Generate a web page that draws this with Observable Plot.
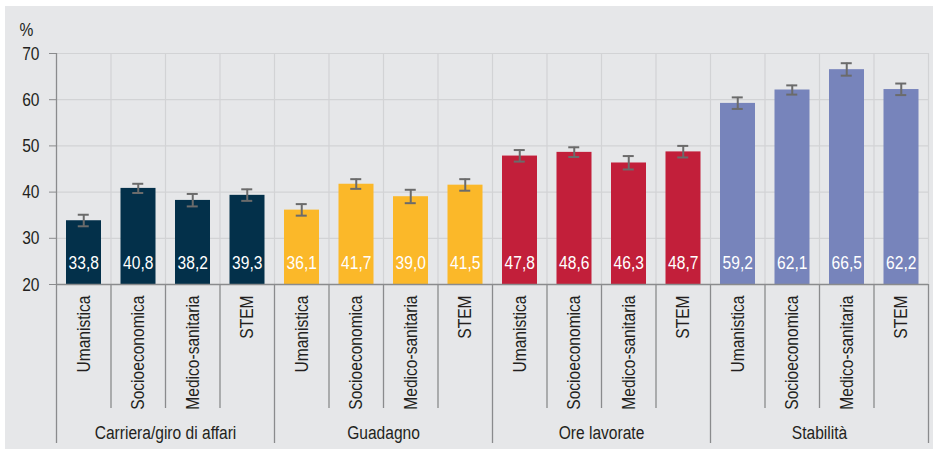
<!DOCTYPE html>
<html>
<head>
<meta charset="utf-8">
<script src="https://cdn.jsdelivr.net/npm/d3@7"></script>
<script src="https://cdn.jsdelivr.net/npm/@observablehq/plot@0.6"></script>
<style>
  html, body { margin: 0; padding: 0; background: #ffffff; }
</style>
</head>
<body>
<div id="chart"></div>
<script>
// ---- Data ----
const groups = ["Carriera/giro di affari", "Guadagno", "Ore lavorate", "Stabilità"];
const areas = ["Umanistica", "Socioeconomica", "Medico-sanitaria", "STEM"];

const carriera  = [33.8, 40.8, 38.2, 39.3];
const guadagno  = [36.1, 41.7, 39.0, 41.5];
const ore       = [47.8, 48.6, 46.3, 48.7];
const stabilita = [59.2, 62.1, 66.5, 62.2];

// error bar bounds
const carrieraLow  = [32.6, 39.8, 36.9, 38.1];
const carrieraHigh = [35.1, 41.8, 39.6, 40.6];
const guadagnoLow  = [34.9, 40.7, 37.6, 40.3];
const guadagnoHigh = [37.4, 42.8, 40.5, 42.8];
const oreLow       = [46.6, 47.6, 44.9, 47.5];
const oreHigh      = [49.1, 49.7, 47.8, 50.0];
const stabilitaLow  = [58.0, 61.1, 65.2, 61.0];
const stabilitaHigh = [60.5, 63.1, 67.9, 63.5];

const yTicks = [20, 30, 40, 50, 60, 70];
const groupColors = ["#03304a", "#fbb829", "#c21f3a", "#7784bb"];

// ---- Build table ----
const valuesByGroup = [carriera, guadagno, ore, stabilita];
const lowByGroup = [carrieraLow, guadagnoLow, oreLow, stabilitaLow];
const highByGroup = [carrieraHigh, guadagnoHigh, oreHigh, stabilitaHigh];

const rows = groups.flatMap((g, gi) => areas.map((a, ai) => ({
  group: g, area: a, pos: gi * areas.length + ai,
  value: valuesByGroup[gi][ai], low: lowByGroup[gi][ai], high: highByGroup[gi][ai]
})));
const n = rows.length;
const bounds = d3.range(0, n + 1);
const innerBounds = bounds.filter(b => b % areas.length !== 0);
const groupBounds = bounds.filter(b => b % areas.length === 0);
const groupRows = groups.map((g, gi) => ({group: g, mid: gi * areas.length + areas.length / 2}));
const fmt = v => v.toFixed(1).replace(".", ",");

const FONT = "'Liberation Sans', Arial, sans-serif";
const NARROW = 0.82; // horizontal condensing of the text, to mimic a narrow face
const gridC = "#d2d3d5";
const axisC = "#8a8b8d";
const textC = "#231f20";
const errC = "#6b6b6b";
const FS = 19;

const chart = Plot.plot({
  width: 935,
  height: 450,
  marginLeft: 56,
  marginRight: 7,
  marginTop: 53,
  marginBottom: 7,
  style: `background: linear-gradient(#e6e7e9, #e6e7e9) 5px 6px / 928px 443px no-repeat, #ffffff; font-family: ${FONT}; font-size: ${FS}px; color: ${textC}; overflow: visible;`,
  x: {domain: [0, n], axis: null},
  y: {domain: [20, 70], range: [284, 53], axis: null},
  color: {domain: groups, range: groupColors},
  marks: [
    // grid
    Plot.ruleY(yTicks.slice(1), {stroke: gridC, strokeWidth: 1.2}),
    Plot.ruleX(bounds.slice(1), {y1: 20, y2: 70, stroke: gridC, strokeWidth: 1.2}),
    // bars
    Plot.rectY(rows, {x1: "pos", x2: d => d.pos + 1, y1: 20, y2: "value", fill: "group", insetLeft: 10, insetRight: 9.5}),
    // error bars
    Plot.ruleX(rows, {x: d => d.pos + 0.5, y1: "low", y2: "high", stroke: errC, strokeWidth: 2}),
    Plot.ruleY(rows, {y: "low", x1: d => d.pos + 0.5, x2: d => d.pos + 0.5, insetLeft: -5.5, insetRight: -5.5, stroke: errC, strokeWidth: 2}),
    Plot.ruleY(rows, {y: "high", x1: d => d.pos + 0.5, x2: d => d.pos + 0.5, insetLeft: -5.5, insetRight: -5.5, stroke: errC, strokeWidth: 2}),
    // axes lines
    Plot.ruleX([0], {y1: 20, y2: 70, stroke: axisC, strokeWidth: 1.3}),
    Plot.ruleY([20], {stroke: axisC, strokeWidth: 1.5}),
    // separators below the axis (frame spans down to the bottom of the panel)
    Plot.ruleX(innerBounds, {insetTop: 231, insetBottom: 35, stroke: axisC, strokeWidth: 1.3}),
    Plot.ruleX(groupBounds, {insetTop: 231, stroke: axisC, strokeWidth: 1.3}),
    // y axis
    Plot.axisY(yTicks, {tickSize: 7, tickPadding: 10, stroke: axisC, fill: textC, fontSize: FS, fontFamily: FONT}),
    Plot.text(["%"], {x: 0, y: 70, text: d => d, dx: -30, dy: -24, fill: textC, fontSize: FS, fontFamily: FONT}),
    // value labels
    Plot.text(rows, {x: d => d.pos + 0.5, y: 20, text: d => fmt(d.value), dy: -22, fill: "white", fontSize: FS, fontFamily: FONT}),
    // category labels
    Plot.text(rows, {x: d => d.pos + 0.5, y: 20, text: "area", rotate: -90, textAnchor: "end", lineAnchor: "middle", dy: 11, fill: textC, fontSize: FS, fontFamily: FONT}),
    // group labels
    Plot.text(groupRows, {x: "mid", y: 20, text: "group", dy: 148, fill: textC, fontSize: FS, fontFamily: FONT})
  ]
});

// condense every label horizontally (along its own reading direction)
d3.select(chart).selectAll("text").each(function () {
  const t = this.getAttribute("transform");
  if (t) {
    this.setAttribute("transform", `${t} scale(${NARROW},1)`);
  } else {
    const x = +(this.getAttribute("x") || 0);
    this.setAttribute("transform", `translate(${x},0) scale(${NARROW},1) translate(${-x},0)`);
  }
});

document.getElementById("chart").appendChild(chart);
</script>
</body>
</html>
